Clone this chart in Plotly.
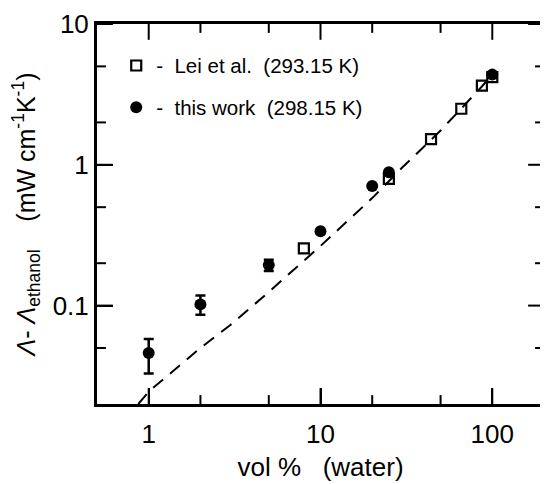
import plotly.graph_objects as go

# Lei et al. (293.15 K) - open squares
lei_x = [8, 25, 44, 66, 87, 100]
lei_y = [0.255, 0.795, 1.52, 2.50, 3.65, 4.2]

# this work (298.15 K) - filled circles
work_x = [1, 2, 5, 10, 20, 25, 100]
work_y = [0.046, 0.102, 0.194, 0.337, 0.707, 0.886, 4.37]
work_err_plus = [0.012, 0.016, 0.018, 0.0, 0.0, 0.0, 0.0]
work_err_minus = [0.013, 0.016, 0.018, 0.0, 0.0, 0.0, 0.0]

# dashed fit curve
fit_x = [0.87, 1, 2, 3, 5, 10, 20, 30, 50, 87, 100]
fit_y = [0.02, 0.0245, 0.050, 0.073, 0.125, 0.265, 0.58, 0.96, 1.75, 3.6, 4.4]

x_tickvals = [1, 10, 100]
x_ticktext = ["1", "10", "100"]
y_tickvals = [0.1, 1, 10]
y_ticktext = ["0.1", "1", "10"]
x_minor = [2, 5, 20, 50]
y_minor = [0.05, 0.2, 0.5, 2, 5]

X_RANGE = [-0.30103, 2.30103]
Y_RANGE = [-1.69897, 1.0]

FONT = "Liberation Sans, Arial, Helvetica, sans-serif"
NB = "\u00a0"

# figure / plot-area geometry (page body has an 8px margin)
FIG_W, FIG_H = 540, 476
M_L, M_R, M_T, M_B = 89, 1, 11, 80
PLOT_W = FIG_W - M_L - M_R
PLOT_H = FIG_H - M_T - M_B
MAJOR_LEN = 16
MINOR_LEN = 9

fig = go.Figure()

fig.add_trace(go.Scatter(
    x=fit_x, y=fit_y, mode="lines",
    line=dict(color="black", width=2, dash="13px,9px"),
    showlegend=False, hoverinfo="skip",
))

fig.add_trace(go.Scatter(
    x=lei_x, y=lei_y, mode="markers",
    marker=dict(symbol="square-open", size=10, color="black", line=dict(width=2.2, color="black")),
    name="-" + NB * 2 + "Lei et al." + NB * 2 + "(293.15 K)",
    legendgroup="a",
))

fig.add_trace(go.Scatter(
    x=work_x, y=work_y, mode="markers",
    marker=dict(symbol="circle", size=12, color="black"),
    error_y=dict(type="data", symmetric=False, array=work_err_plus, arrayminus=work_err_minus,
                 color="black", thickness=2.5, width=5),
    name="-" + NB * 2 + "this work" + NB * 2 + "(298.15 K)",
    legendgroup="b",
))

# inward tick marks on all four sides (positioned through the axes)
tick_line = dict(color="black", width=2)
for vals, length in ((x_tickvals, MAJOR_LEN), (x_minor, MINOR_LEN)):
    f = length / PLOT_H
    for v in vals:
        fig.add_shape(type="line", xref="x", yref="paper", x0=v, x1=v, y0=0, y1=f, line=tick_line)
        fig.add_shape(type="line", xref="x", yref="paper", x0=v, x1=v, y0=1, y1=1 - f, line=tick_line)
for vals, length in ((y_tickvals, MAJOR_LEN), (y_minor, MINOR_LEN)):
    f = length / PLOT_W
    for v in vals:
        fig.add_shape(type="line", yref="y", xref="paper", y0=v, y1=v, x0=0, x1=f, line=tick_line)
        fig.add_shape(type="line", yref="y", xref="paper", y0=v, y1=v, x0=1, x1=1 - f, line=tick_line)

fig.update_layout(
    width=FIG_W, height=FIG_H,
    margin=dict(l=M_L, r=M_R, t=M_T, b=M_B),
    paper_bgcolor="white", plot_bgcolor="white",
    font=dict(family=FONT, color="black"),
    xaxis=dict(
        type="log", range=X_RANGE,
        showline=True, linecolor="black", linewidth=3, mirror=True,
        ticks="inside", ticklen=MAJOR_LEN, tickwidth=2, tickcolor="black",
        ticklabelstandoff=5, ticklabeloverflow="allow",
        showgrid=False, zeroline=False,
        tickfont=dict(family=FONT, size=26, color="black"),
        tickmode="array", tickvals=x_tickvals, ticktext=x_ticktext,
        title=dict(text="vol %" + NB * 3 + "(water)", font=dict(family=FONT, size=26), standoff=10),
    ),
    yaxis=dict(
        type="log", range=Y_RANGE,
        showline=True, linecolor="black", linewidth=3, mirror=True,
        ticks="inside", ticklen=MAJOR_LEN, tickwidth=2, tickcolor="black",
        ticklabeloverflow="allow",
        showgrid=False, zeroline=False,
        tickfont=dict(family=FONT, size=26, color="black"),
        tickmode="array", tickvals=y_tickvals, ticktext=y_ticktext,
        title=dict(text="<i>Λ</i>- <i>Λ</i><sub>ethanol</sub>" + NB * 4 + "(mW cm<sup>-1</sup>K<sup>-1</sup>)",
                   font=dict(family=FONT, size=25), standoff=12),
    ),
    legend=dict(
        x=0.043, y=0.943, xanchor="left", yanchor="top",
        font=dict(family=FONT, size=20.5, color="black"),
        bgcolor="rgba(0,0,0,0)", borderwidth=0,
        tracegroupgap=12,
    ),
    showlegend=True,
)

fig.write_html("out.html")
